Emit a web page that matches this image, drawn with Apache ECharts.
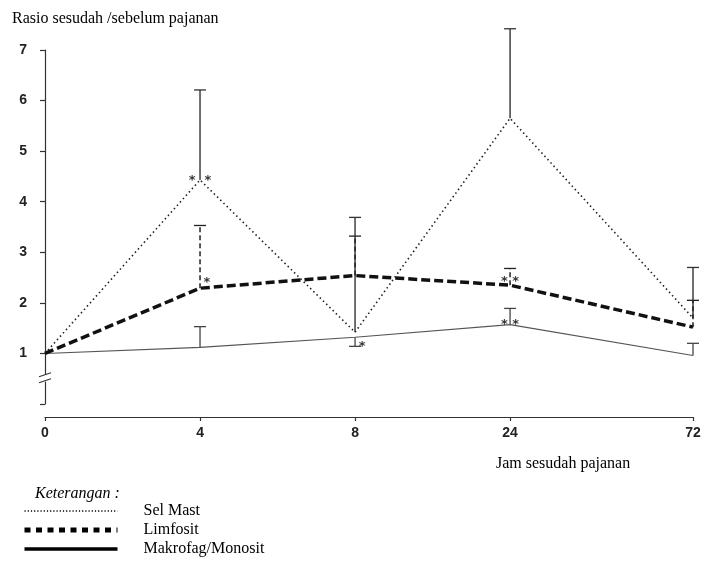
<!DOCTYPE html>
<html>
<head>
<meta charset="utf-8">
<script src="https://cdn.jsdelivr.net/npm/echarts@6/dist/echarts.min.js"></script>
<style>
  html, body { margin:0; padding:0; background:#fff; }
  #main { width:704px; height:569px; }
</style>
</head>
<body>
<div id="main"></div>
<script>
// jam sesudah pajanan (label) dan posisi pada sumbu (sumbu tidak linear)
var hours = ['0', '4', '8', '24', '72'];
var xPos = [0, 1, 2, 3, 4.18];

// rasio sesudah / sebelum pajanan
var selMast  = [1.0, 4.43, 1.42, 5.65, 1.70];
var limfosit = [1.0, 2.29, 2.54, 2.35, 1.52];
var makrofag = [1.0, 1.12, 1.32, 1.57, 0.96];

// ujung error bar
var selMastErr  = [null, 6.21, 3.69, 7.42, 2.70];
var limfositErr = [null, 3.53, 3.32, 2.68, 2.05];
var makrofagErr = [null, 1.53, 1.14, 1.89, 1.20];

// tanda bintang: [indeks jam, nilai, teks, geser x]
var stars = [
    [1, 4.49, '*  *', 0],
    [1, 2.47, '*', 7],
    [2, 1.22, '*', 7],
    [3, 2.50, '* *', 0],
    [3, 1.65, '* *', 0]
];

var yTicks = [0, 1, 2, 3, 4, 5, 6, 7];

function pairs(arr) {
    var out = [];
    for (var i = 0; i < arr.length; i++) out.push([xPos[i], arr[i]]);
    return out;
}
function errData(vals, errs) {
    var out = [];
    for (var i = 0; i < vals.length; i++) {
        if (errs[i] != null) out.push([xPos[i], vals[i], errs[i]]);
    }
    return out;
}
function errRender(color, width, dash) {
    return function (params, api) {
        var p1 = api.coord([api.value(0), api.value(1)]);
        var p2 = api.coord([api.value(0), api.value(2)]);
        return {
            type: 'group',
            children: [
                { type: 'line', shape: { x1: p1[0], y1: p1[1], x2: p2[0], y2: p2[1] },
                  style: { stroke: color, lineWidth: width, lineDash: dash } },
                { type: 'line', shape: { x1: p2[0] - 6, y1: p2[1], x2: p2[0] + 6, y2: p2[1] },
                  style: { stroke: color, lineWidth: 1.3 } }
            ]
        };
    };
}

var serifText = { fontFamily: 'Liberation Serif', fontSize: 16, fontWeight: 'normal', color: '#000' };

var chart = echarts.init(document.getElementById('main'));
var option = {
    animation: false,
    backgroundColor: '#fff',
    title: [
        { text: 'Rasio sesudah /sebelum pajanan', left: 12, top: 11, padding: 0, textStyle: serifText },
        { text: 'Jam sesudah pajanan', left: 496, top: 456, padding: 0, textStyle: serifText },
        { text: 'Keterangan :', left: 35, top: 486, padding: 0,
          textStyle: { fontFamily: 'Liberation Serif', fontSize: 16, fontWeight: 'normal', fontStyle: 'italic', color: '#000' } }
    ],
    grid: { left: 45, right: 11, top: 50, bottom: 165 },
    xAxis: {
        type: 'value', min: 0, max: xPos[xPos.length - 1],
        offset: 13,
        splitLine: { show: false },
        axisLine: { onZero: false, lineStyle: { color: '#333', width: 1.2 } },
        axisTick: { customValues: xPos, length: 4, lineStyle: { color: '#333', width: 1.2 } },
        axisLabel: {
            customValues: xPos, margin: 9,
            fontFamily: 'Liberation Sans', fontSize: 14, fontWeight: 'bold', color: '#222',
            formatter: function (v) {
                var i = xPos.indexOf(v);
                return i >= 0 ? hours[i] : '';
            }
        }
    },
    yAxis: {
        type: 'value', min: 0, max: 7,
        splitLine: { show: false },
        axisLine: { show: true, onZero: false, lineStyle: { color: '#333', width: 1.2 } },
        axisTick: { show: true, customValues: yTicks, length: 5, lineStyle: { color: '#333', width: 1.2 } },
        axisLabel: {
            customValues: yTicks, margin: 18,
            fontFamily: 'Liberation Sans', fontSize: 14, fontWeight: 'bold', color: '#222',
            formatter: function (v) { return v === 0 ? '' : String(v); }
        }
    },
    legend: {
        orient: 'vertical', left: 22, top: 503, height: 80, padding: 0,
        itemWidth: 93, itemHeight: 14, itemGap: 3,
        itemStyle: { opacity: 0 },
        textStyle: { fontFamily: 'Liberation Serif', fontSize: 16, color: '#000', padding: [0, 0, 0, 21] },
        data: [
            { name: 'Sel Mast', lineStyle: { color: '#000', width: 1.5, type: [1.2, 2] } },
            { name: 'Limfosit', lineStyle: { color: '#000', width: 5, type: [6, 5.5] } },
            { name: 'Makrofag/Monosit', lineStyle: { color: '#000', width: 3.5, type: 'solid' } }
        ]
    },
    series: [
        { name: 'Sel Mast', type: 'line', data: pairs(selMast), symbol: 'none',
          itemStyle: { color: '#222' },
          lineStyle: { color: '#222', width: 1.6, type: [1.5, 3] }, z: 3 },
        { name: 'Limfosit', type: 'line', data: pairs(limfosit), symbol: 'none',
          itemStyle: { color: '#111' },
          lineStyle: { color: '#111', width: 3.5, type: [9, 4] }, z: 4 },
        { name: 'Makrofag/Monosit', type: 'line', data: pairs(makrofag), symbol: 'none',
          itemStyle: { color: '#555' },
          lineStyle: { color: '#555', width: 1.1 }, z: 3 },
        { type: 'custom', data: errData(selMast, selMastErr), renderItem: errRender('#333', 1.4, null), z: 2 },
        { type: 'custom', data: errData(limfosit, limfositErr), renderItem: errRender('#222', 1.5, [5, 3]), z: 2 },
        { type: 'custom', data: errData(makrofag, makrofagErr), renderItem: errRender('#444', 1.3, null), z: 2 },
        { type: 'scatter', symbolSize: 1, z: 10,
          itemStyle: { color: 'rgba(0,0,0,0)' },
          data: stars.map(function (s) {
              return { value: [xPos[s[0]], s[1]],
                       label: { show: true, formatter: s[2], offset: [s[3], 4] } };
          }),
          label: { position: 'inside', fontFamily: 'DejaVu Sans', fontSize: 13, fontWeight: 'bold', color: '#000' } }
    ]
};
chart.setOption(option);

// tanda putus pada sumbu y
var pb = chart.convertToPixel({ gridIndex: 0 }, [0, 0.5]);
chart.setOption({
    graphic: [
        { type: 'rect', shape: { x: pb[0] - 3, y: pb[1] - 4, width: 6, height: 7 }, style: { fill: '#fff' }, z: 100 },
        { type: 'line', shape: { x1: pb[0] - 6, y1: pb[1] - 2, x2: pb[0] + 6, y2: pb[1] - 6 }, style: { stroke: '#333', lineWidth: 1.2 }, z: 101 },
        { type: 'line', shape: { x1: pb[0] - 6, y1: pb[1] + 4, x2: pb[0] + 6, y2: pb[1] }, style: { stroke: '#333', lineWidth: 1.2 }, z: 101 }
    ]
});
</script>
</body>
</html>
